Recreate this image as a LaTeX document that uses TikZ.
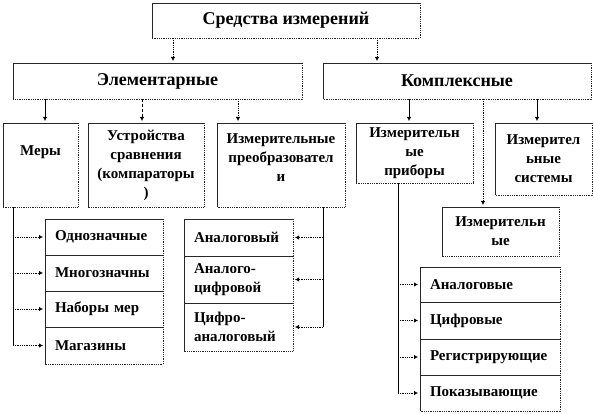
\documentclass[tikz,border=0pt]{standalone}
\usepackage{fontspec}
\setmainfont{Liberation Serif}
\usetikzlibrary{positioning, arrows.meta}
\hyphenpenalty=10000
\exhyphenpenalty=10000
\tikzset{
	mbox/.style={inner sep=2pt, outer sep=0pt, align=center,
		font=\fontsize{15}{19}\selectfont\bfseries},
	titlebox/.style={mbox, font=\fontsize{18}{20}\selectfont\bfseries},
	listrow/.style={mbox, align=left, inner xsep=10pt, inner ysep=0pt},
	frameline/.style={draw=black!85, line width=0.8pt},
	solidarr/.style={-{Latex[length=4pt,width=4.5pt]}, line width=0.8pt, shorten >=2pt},
	dotarr/.style={solidarr, densely dotted},
	dasharr/.style={solidarr, densely dashed}
}

\begin{document}
\begin{tikzpicture}[x=1pt, y=-1pt]
	\useasboundingbox (0,0) rectangle (594,414);
	% upper levels
	\node[titlebox, minimum width=268pt, minimum height=35pt] (root) at (286,20.5) {Средства измерений};
	\node[titlebox, minimum width=289pt, minimum height=36pt] (elem) at (157.5,81) {Элементарные};
	\node[titlebox, minimum width=268pt, minimum height=36pt] (comp) at (457,81) {Комплексные};
	% second level
	\node[mbox, minimum width=75pt, minimum height=84pt, text depth=28pt] (mery) at (40.5,165) {Меры};
	\node[mbox, minimum width=116pt, minimum height=84pt] (ustr) at (146,165) {Устройства\\сравнения\\(компараторы\\)};
	\node[mbox, minimum width=128pt, minimum height=84pt, text depth=14pt] (conv) at (281,165) {Измерительные\\преобразовател\\и};
	\node[mbox, minimum width=117pt, minimum height=60pt] (prib) at (414.5,153) {Измерительн\\ые\\приборы};
	\node[mbox, minimum width=97pt, minimum height=72pt] (sist) at (543.5,159) {Измерител\\ьные\\системы};
	\node[mbox, minimum width=117pt, minimum height=49pt] (meas) at (500.5,231.5) {Измерительн\\ые};
	% lists
	\node[listrow, text width=98pt, minimum height=36pt, anchor=north west] (l1) at (45,219) {Однозначные};
	\node[listrow, text width=98pt, minimum height=36pt, below=0pt of l1] (l2) {Многозначны};
	\node[listrow, text width=98pt, minimum height=36pt, below=0pt of l2] (l3) {Наборы мер};
	\node[listrow, text width=98pt, minimum height=37pt, below=0pt of l3] (l4) {Магазины};
	\node[listrow, text width=89pt, minimum height=37pt, anchor=north west] (c1) at (184,219) {Аналоговый};
	\node[listrow, text width=89pt, minimum height=47pt, below=0pt of c1] (c2) {Аналого-\\цифровой};
	\node[listrow, text width=89pt, minimum height=48pt, below=0pt of c2] (c3) {Цифро-\\аналоговый};
	\node[listrow, text width=120pt, minimum height=35pt, anchor=north west] (r1) at (420,267) {Аналоговые};
	\node[listrow, text width=120pt, minimum height=37pt, below=0pt of r1] (r2) {Цифровые};
	\node[listrow, text width=120pt, minimum height=36pt, below=0pt of r2] (r3) {Регистрирующие};
	\node[listrow, text width=120pt, minimum height=36pt, below=0pt of r3] (r4) {Показывающие};
	% frames: solid top and left, dotted right and bottom
	\foreach \n in {root,elem,comp,mery,ustr,conv,prib,sist,meas,l1,l2,l3,l4,c1,c2,c3,r1,r2,r3,r4}{
		\draw[frameline] (\n.south west) -- (\n.north west) -- (\n.north east);
		\draw[frameline, densely dotted] (\n.north east) -- (\n.south east) -- (\n.south west);
	}
	% connectors between levels
	\coordinate (a1) at ([xshift=21pt]root.south west);
	\coordinate (a2) at ([xshift=-43pt]root.south east);
	\draw[dotarr] (a1) -- (a1 |- elem.north);
	\draw[dotarr] (a2) -- (a2 |- comp.north);
	\coordinate (e1) at ([xshift=32pt]elem.south west);
	\coordinate (e2) at ([xshift=129pt]elem.south west);
	\coordinate (e3) at ([xshift=225pt]elem.south west);
	\draw[solidarr] (e1) -- (e1 |- mery.north);
	\draw[dasharr] (e2) -- (e2 |- ustr.north);
	\draw[dotarr] (e3) -- (e3 |- conv.north);
	\coordinate (k1) at ([xshift=86pt]comp.south west);
	\coordinate (k2) at ([xshift=160pt]comp.south west);
	\coordinate (k3) at ([xshift=214pt]comp.south west);
	\draw[solidarr] (k1) -- (k1 |- prib.north);
	\draw[dotarr] (k2) -- (k2 |- meas.north);
	\draw[solidarr] (k3) -- (k3 |- sist.north);
	% list connectors
	\coordinate (lv) at ([xshift=10pt]mery.south west);
	\draw[line width=0.8pt] (lv) -- (lv |- l4.west);
	\foreach \r in {l1,l2,l3,l4}
		\draw[dotarr] (lv |- \r.west) -- (\r.west);
	\coordinate (cv) at ([xshift=-22pt]conv.south east);
	\draw[line width=0.8pt] (cv) -- (cv |- c3.east);
	\foreach \r in {c1,c2,c3}
		\draw[dotarr] (cv |- \r.east) -- (\r.east);
	\coordinate (rv) at ([xshift=-16.5pt]prib.south);
	\draw[line width=0.8pt] (rv) -- (rv |- r4.west);
	\foreach \r in {r1,r2,r3,r4}
		\draw[dotarr] (rv |- \r.west) -- (\r.west);
\end{tikzpicture}
\end{document}
